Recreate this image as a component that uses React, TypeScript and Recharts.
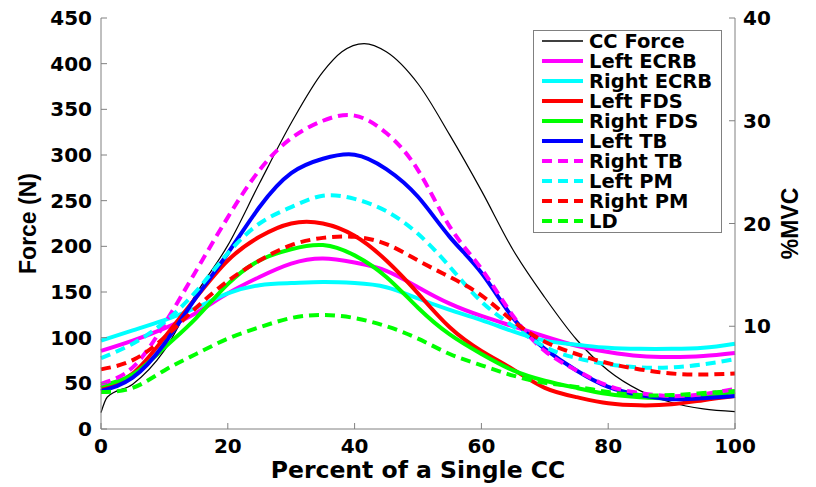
import React from "react";
import { LineChart, Line, XAxis, YAxis, Legend } from "recharts";

// percent of a single CC (x axis)
const pct = [0, 5, 10, 15, 20, 25, 30, 35, 40, 45, 50, 55, 60, 65, 70, 75, 80, 85, 90, 95, 100];

// CC force in N (left axis), with extra samples at the start-up kink and the peak
const ccPct = [0, 1, 5, 10, 15, 20, 25, 30, 35, 38, 41.5, 45, 50, 55, 60, 65, 70, 75, 80, 85, 90, 95, 100];
const ccForce = [18, 35, 49, 86, 148, 201, 269, 335, 391, 413, 422, 413, 378, 322, 261, 196, 144, 98, 64, 42, 29, 22, 19];

// muscle activity in %MVC (right axis)
const leftEcrb = [7.6, 8.6, 9.8, 11.3, 13.2, 14.8, 16.1, 16.6, 16.2, 15.4, 13.8, 12.2, 11.0, 10.0, 9.0, 8.1, 7.5, 7.1, 7.0, 7.1, 7.4];
const rightEcrb = [8.6, 9.6, 10.6, 11.8, 13.2, 14.0, 14.2, 14.3, 14.2, 13.8, 12.7, 11.6, 10.6, 9.5, 8.6, 8.2, 7.9, 7.8, 7.8, 7.9, 8.3];
const leftFds = [4.0, 5.4, 8.9, 12.8, 16.4, 18.7, 20.0, 20.0, 18.8, 16.4, 13.2, 9.9, 7.6, 5.8, 4.0, 3.1, 2.5, 2.3, 2.4, 2.8, 3.2];
const rightFds = [4.2, 5.3, 7.9, 10.8, 14.1, 16.4, 17.5, 17.9, 16.9, 14.8, 11.8, 9.2, 7.3, 5.7, 4.7, 4.0, 3.4, 3.1, 3.0, 3.2, 3.6];
const leftTb = [3.7, 5.0, 8.3, 12.8, 17.1, 21.6, 24.9, 26.3, 26.7, 25.3, 22.6, 18.7, 15.2, 10.8, 7.8, 5.7, 4.1, 3.3, 2.9, 3.0, 3.2];
const rightTb = [4.4, 6.0, 10.2, 15.4, 20.6, 25.2, 28.3, 30.0, 30.5, 28.8, 25.2, 19.7, 15.6, 11.0, 7.6, 5.7, 4.2, 3.5, 3.2, 3.4, 3.9];
const leftPm = [6.9, 8.3, 10.4, 13.4, 17.1, 20.0, 21.6, 22.7, 22.4, 21.2, 19.0, 15.8, 12.4, 10.0, 8.0, 6.9, 6.3, 6.0, 6.0, 6.3, 6.8];
const rightPm = [5.8, 6.7, 8.9, 11.8, 14.4, 16.4, 17.9, 18.6, 18.7, 18.0, 16.4, 14.8, 13.0, 10.5, 8.5, 7.3, 6.4, 5.8, 5.4, 5.3, 5.4];
const ld = [3.6, 4.0, 5.7, 7.3, 8.8, 9.9, 10.8, 11.1, 10.8, 10.0, 8.8, 7.3, 6.2, 5.2, 4.5, 4.1, 3.6, 3.3, 3.3, 3.5, 3.7];

const xTicks = [0, 20, 40, 60, 80, 100];
const forceTicks = [0, 50, 100, 150, 200, 250, 300, 350, 400, 450];
const mvcTicks = [10, 20, 30, 40];

const muscles = [
  { key: "leftEcrb", name: "Left ECRB", values: leftEcrb, color: "#ff00ff", dash: undefined },
  { key: "rightEcrb", name: "Right ECRB", values: rightEcrb, color: "#00ffff", dash: undefined },
  { key: "leftFds", name: "Left FDS", values: leftFds, color: "#ff0000", dash: undefined },
  { key: "rightFds", name: "Right FDS", values: rightFds, color: "#00ff00", dash: undefined },
  { key: "leftTb", name: "Left TB", values: leftTb, color: "#0000ff", dash: undefined },
  { key: "rightTb", name: "Right TB", values: rightTb, color: "#ff00ff", dash: "10 6" },
  { key: "leftPm", name: "Left PM", values: leftPm, color: "#00ffff", dash: "10 6" },
  { key: "rightPm", name: "Right PM", values: rightPm, color: "#ff0000", dash: "10 6" },
  { key: "ld", name: "LD", values: ld, color: "#00ff00", dash: "10 6" },
];

const muscleData = pct.map((p, i) => {
  const row: Record<string, number> = { pct: p };
  muscles.forEach((m) => {
    row[m.key] = m.values[i];
  });
  return row;
});

const ccData = ccPct.map((p, i) => ({ pct: p, ccForce: ccForce[i] }));

const H_FONT = '"DejaVu Sans", sans-serif';
const V_FONT = '"Liberation Sans", Arial, sans-serif';
const AXIS_GREY = "#808080";

const tickStyle = { fontSize: 20, fontFamily: H_FONT, fontWeight: "bold", fill: "#000" };

function LegendBox() {
  const rows = [{ name: "CC Force", color: "#000", dash: undefined, width: 1.3 }].concat(
    muscles.map((m) => ({ name: m.name, color: m.color, dash: m.dash, width: 4 }))
  );
  return (
    <svg width={189} height={203} style={{ display: "block" }}>
      <rect x={0.5} y={0.5} width={188} height={202} fill="#fff" stroke={AXIS_GREY} />
      {rows.map((r, i) => {
        const cy = 11 + i * 20;
        return (
          <g key={r.name}>
            <line x1={9} x2={50} y1={cy} y2={cy} stroke={r.color} strokeWidth={r.width} strokeDasharray={r.dash} />
            <text x={56} y={cy + 7} fontFamily={H_FONT} fontWeight="bold" fontSize={19.5} fill="#000">
              {r.name}
            </text>
          </g>
        );
      })}
    </svg>
  );
}

export default function App() {
  return (
    <div style={{ position: "absolute", left: 0, top: 0, background: "#fff" }}>
      <LineChart width={816} height={487} data={muscleData} margin={{ top: 18, right: 0, bottom: 0, left: 0 }}>
        <XAxis
          dataKey="pct"
          type="number"
          domain={[0, 100]}
          ticks={xTicks}
          interval={0}
          height={58}
          tickSize={-6}
          tickMargin={16}
          stroke={AXIS_GREY}
          tick={tickStyle}
          label={{
            value: "Percent of a Single CC",
            position: "insideBottom",
            offset: 9,
            style: { fontSize: 23.5, fontFamily: H_FONT, fontWeight: "bold", fill: "#000" },
          }}
        />
        <YAxis
          yAxisId="left"
          type="number"
          domain={[0, 450]}
          ticks={forceTicks}
          interval={0}
          width={101}
          tickSize={-6}
          tickMargin={15}
          stroke={AXIS_GREY}
          tick={tickStyle}
          label={{
            value: "Force (N)",
            angle: -90,
            position: "insideLeft",
            offset: 28,
            style: { textAnchor: "middle", fontSize: 23, fontFamily: V_FONT, fontWeight: "bold", fill: "#000" },
          }}
        />
        <YAxis
          yAxisId="right"
          orientation="right"
          type="number"
          domain={[0, 40]}
          ticks={mvcTicks}
          interval={0}
          width={81}
          tickSize={-6}
          tickMargin={14}
          stroke={AXIS_GREY}
          tick={tickStyle}
          label={{
            value: "%MVC",
            angle: -90,
            position: "insideRight",
            offset: 26,
            style: { textAnchor: "middle", fontSize: 23, fontFamily: V_FONT, fontWeight: "bold", fill: "#000" },
          }}
        />
        <Line
          yAxisId="left"
          data={ccData}
          dataKey="ccForce"
          name="CC Force"
          type="monotone"
          stroke="#000"
          strokeWidth={1.2}
          dot={false}
          activeDot={false}
          isAnimationActive={false}
        />
        {muscles.map((m) => (
          <Line
            key={m.key}
            yAxisId="right"
            dataKey={m.key}
            name={m.name}
            type="natural"
            stroke={m.color}
            strokeWidth={4}
            strokeDasharray={m.dash}
            dot={false}
            activeDot={false}
            isAnimationActive={false}
          />
        ))}
        <Legend
          layout="horizontal"
          verticalAlign="middle"
          align="center"
          wrapperStyle={{ left: 533, top: 30, width: 189, height: 203 }}
          content={() => <LegendBox />}
        />
      </LineChart>
    </div>
  );
}
